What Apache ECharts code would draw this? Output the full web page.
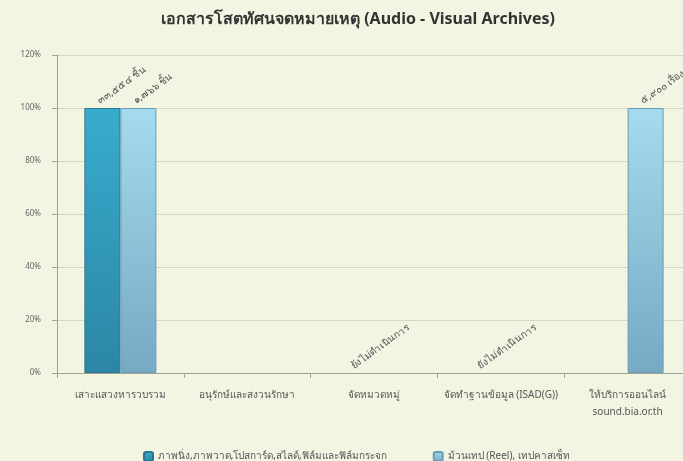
<!DOCTYPE html>
<html>
<head>
<meta charset="utf-8">
<script src="https://cdn.jsdelivr.net/npm/echarts@6/dist/echarts.min.js"></script>
<style>
html,body{margin:0;padding:0;background:#f3f5e3;overflow:hidden;}
#c{width:691px;height:461px;}
</style>
</head>
<body>
<div id="c"></div>
<script>
var titleText = 'เอกสารโสตทัศนจดหมายเหตุ (Audio - Visual Archives)';
var categories = ['เสาะแสวงหารวบรวม', 'อนุรักษ์และสงวนรักษา', 'จัดหมวดหมู่', 'จัดทำฐานข้อมูล (ISAD(G))', 'ให้บริการออนไลน์\nsound.bia.or.th'];
var seriesNames = ['ภาพนิ่ง,ภาพวาด,โปสการ์ด,สไลด์,ฟิล์มและฟิล์มกระจก', 'ม้วนเทป (Reel), เทปคาสเซ็ท'];
var series1Values = [1.0, null, 0, 0, null];
var series2Values = [1.0, null, null, null, 1.0];
var series1Labels = ['๓๓,๕๕๔ ชิ้น', '', 'ยังไม่ดำเนินการ', 'ยังไม่ดำเนินการ', ''];
var series2Labels = ['๑,๗๖๖ ชิ้น', '', '', '', '๕,๙๐๐ เรื่อง'];

var chart = echarts.init(document.getElementById('c'));
var fontFam = 'Noto Sans, DejaVu Sans, sans-serif';
function grad(top, bottom){
  return new echarts.graphic.LinearGradient(0,0,0,1,[{offset:0,color:top},{offset:1,color:bottom}]);
}
var c1 = grad('#38acce', '#2c86a5');
var c2 = grad('#a4dbee', '#76a9c4');
function lbl(labels){
  return {
    show: true,
    position: 'top',
    rotate: 35,
    align: 'left',
    verticalAlign: 'middle',
    distance: 9,
    offset: [-5, 0],
    color: '#555',
    fontSize: 10,
    fontFamily: fontFam,
    formatter: function(p){ return labels[p.dataIndex] || ''; }
  };
}
function toData(vals){
  return vals.map(function(v){
    if (v === 0) return {value: v, itemStyle: {color: 'rgba(0,0,0,0)', borderWidth: 0}};
    return v;
  });
}
chart.setOption({
  backgroundColor: '#f3f5e3',
  animation: false,
  title: {
    text: titleText,
    left: 353,
    textAlign: 'center',
    top: 6,
    textStyle: {fontSize: 16, fontWeight: 'bold', color: '#333', fontFamily: fontFam}
  },
  legend: {
    data: seriesNames,
    left: 138,
    top: 446,
    itemWidth: 9,
    itemHeight: 9,
    itemGap: 46,
    textStyle: {fontSize: 10, color: '#555', fontFamily: fontFam}
  },
  grid: {left: 57, top: 55, bottom: 88, right: 0, containLabel: false},
  xAxis: {
    type: 'category',
    data: categories,
    axisLine: {lineStyle: {color: '#a0a296'}},
    axisTick: {show: true, lineStyle: {color: '#a0a296'}},
    axisLabel: {color: '#555', fontSize: 10, fontFamily: fontFam, margin: 14, lineHeight: 17, interval: 0}
  },
  yAxis: {
    type: 'value',
    min: 0, max: 1.2, interval: 0.2,
    axisLine: {show: true, lineStyle: {color: '#a0a296'}},
    axisTick: {show: true, length: 5, lineStyle: {color: '#a0a296'}},
    splitLine: {lineStyle: {color: '#d6d8c6'}},
    axisLabel: {color: '#666', fontSize: 8, fontFamily: fontFam, margin: 16,
      formatter: function(v){ return Math.round(v*100) + '%'; }}
  },
  series: [
    {name: seriesNames[0], type: 'bar', data: toData(series1Values), barWidth: 36, barGap: '0%',
     itemStyle: {color: c1, borderColor: '#2a7590', borderWidth: 1},
     label: lbl(series1Labels)},
    {name: seriesNames[1], type: 'bar', data: toData(series2Values), barWidth: 36, barGap: '0%',
     itemStyle: {color: c2, borderColor: '#6a9db5', borderWidth: 1},
     label: lbl(series2Labels)}
  ]
});
</script>
</body>
</html>
